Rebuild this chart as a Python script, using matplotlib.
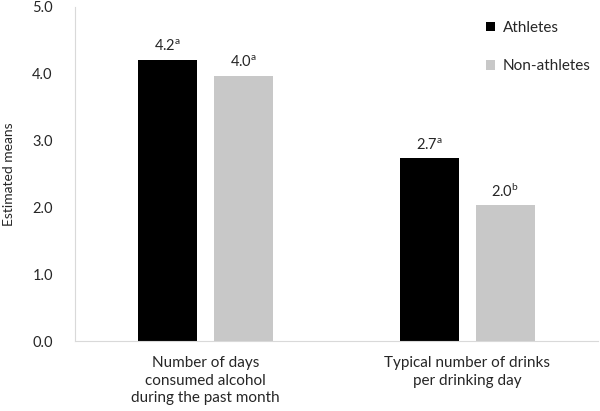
import matplotlib
matplotlib.use("Agg")
import matplotlib.pyplot as plt
import numpy as np

plt.rcParams['font.family'] = ['Lato', 'DejaVu Sans']
plt.rcParams['mathtext.fontset'] = 'custom'
plt.rcParams['mathtext.rm'] = 'Lato'
plt.rcParams['mathtext.it'] = 'Lato'

categories = ["Number of days\nconsumed alcohol\nduring the past month",
              "Typical number of drinks\nper drinking day"]
athletes = [4.21, 2.74]
non_athletes = [3.97, 2.03]
athlete_labels = ["4.2", "2.7"]
non_athlete_labels = ["4.0", "2.0"]
athlete_sup = ["a", "a"]
non_athlete_sup = ["a", "b"]
yticks = [0.0, 1.0, 2.0, 3.0, 4.0, 5.0]

fig = plt.figure(figsize=(6, 4.11), dpi=100)
ax = fig.add_axes([0.125, 0.170, 0.872, 0.813])

x = np.arange(len(categories))
w = 0.225
off = 0.145
ax.bar(x - off, athletes, w, color='black', label='Athletes')
ax.bar(x + off, non_athletes, w, color='#c8c8c8', label='Non-athletes')

txtc = '#262626'
for xi, v, l, s in zip(x - off, athletes, athlete_labels, athlete_sup):
    ax.text(xi, v + 0.08, f"{l}$^{{\\mathrm{{{s}}}}}$", ha='center', va='bottom',
            fontsize=10.5, color=txtc)
for xi, v, l, s in zip(x + off, non_athletes, non_athlete_labels, non_athlete_sup):
    ax.text(xi, v + 0.08, f"{l}$^{{\\mathrm{{{s}}}}}$", ha='center', va='bottom',
            fontsize=10.5, color=txtc)

ax.set_xlim(-0.5, 1.5)
ax.set_ylim(0, 5.0)
ax.set_yticks(yticks)
ax.set_yticklabels([f"{t:.1f}" for t in yticks], fontsize=10.5, color=txtc)
ax.set_xticks(x)
ax.set_xticklabels(categories, fontsize=11, color=txtc, linespacing=1.3)
ax.tick_params(axis='y', length=0, pad=16)
ax.tick_params(axis='x', length=0, pad=11)
ax.set_ylabel("Estimated means", fontsize=10, color=txtc, labelpad=12)

for sp in ['top', 'right']:
    ax.spines[sp].set_visible(False)
ax.spines['left'].set_color('#d9d9d9')
ax.spines['bottom'].set_color('#d9d9d9')

leg = ax.legend(loc='upper right', bbox_to_anchor=(1.012, 1.0), frameon=False,
                fontsize=11, handlelength=0.6, handleheight=0.6,
                labelspacing=1.6, handletextpad=0.5)
for t in leg.get_texts():
    t.set_color(txtc)

fig.savefig("out.png", dpi=100)
